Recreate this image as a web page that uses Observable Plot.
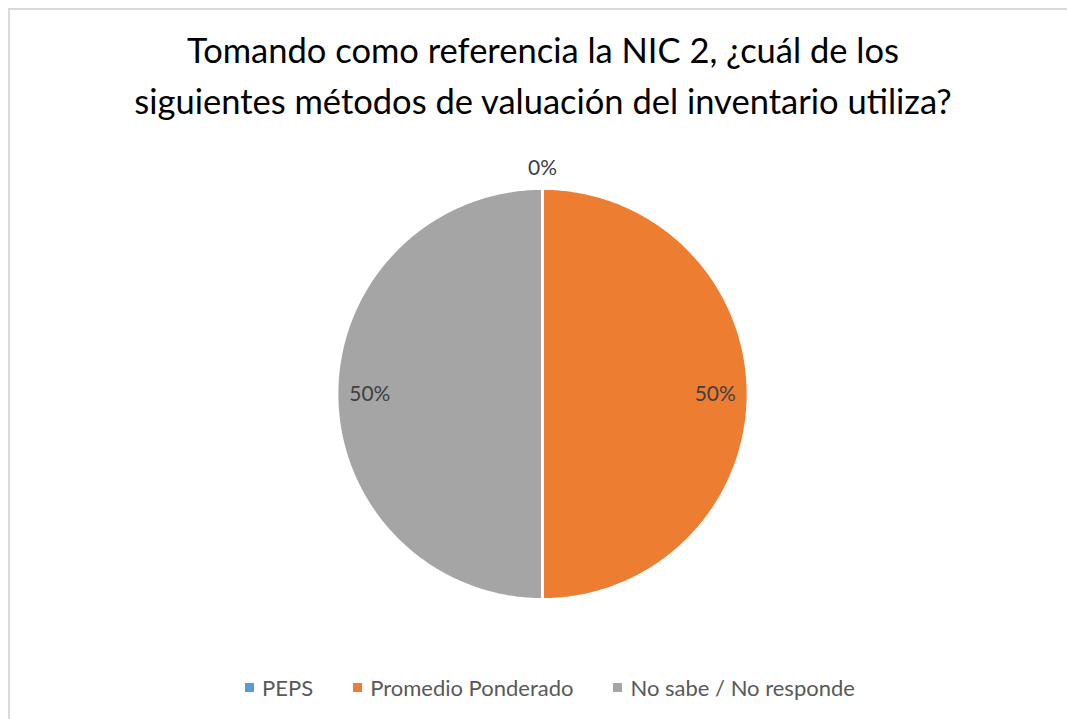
<!DOCTYPE html>
<html>
<head>
<meta charset="utf-8">
<script src="https://cdn.jsdelivr.net/npm/d3@7"></script>
<script src="https://cdn.jsdelivr.net/npm/@observablehq/plot@0.6"></script>
<style>
  html, body { margin: 0; padding: 0; background: #fff; overflow: hidden; }
  #frame { position: absolute; left: 8px; top: 8px; width: 1070px; height: 730px;
           border: 2px solid #d9d9d9; box-sizing: border-box; font-family: Lato, "Open Sans", sans-serif; }
  #title { position: absolute; left: 0; top: 14px; width: 100%; text-align: center;
           font-size: 34.5px; line-height: 51px; color: #000; }
  #chart { position: absolute; left: -2px; top: 110px; }
  #legend { position: absolute; left: 0; top: 664px; width: 100%; display: flex; justify-content: center;
            gap: 40px; font-size: 22px; color: #595959; padding-left: 14px; box-sizing: border-box; }
  .item { display: flex; align-items: center; }
  .sw { width: 9px; height: 9px; margin-right: 8px; }
</style>
</head>
<body>
<div id="frame">
  <div id="title">Tomando como referencia la NIC 2, ¿cuál de los<br>siguientes métodos de valuación del inventario utiliza?</div>
  <div id="chart"></div>
  <div id="legend"></div>
</div>
<script>
const categories = ["PEPS", "Promedio Ponderado", "No sabe / No responde"];
const values = [0, 50, 50];
const labels = ["0%", "50%", "50%"];
const colors = ["#5B9BD5", "#ED7D31", "#A5A5A5"];

const W = 1070, H = 540, R = 206;
const cx = 535, cy = 274; // pixel center inside svg
const pie = d3.pie().sort(null).value(d => d)(values);

// polygon points for each slice (angles clockwise from top)
const pts = [];
pie.forEach((p, i) => {
  if (p.endAngle - p.startAngle <= 0) return;
  const n = Math.max(2, Math.ceil((p.endAngle - p.startAngle) / 0.01));
  pts.push({cat: categories[i], x: 0, y: 0});
  for (let k = 0; k <= n; k++) {
    const a = p.startAngle + (p.endAngle - p.startAngle) * k / n;
    pts.push({cat: categories[i], x: Math.sin(a), y: Math.cos(a)});
  }
  pts.push({cat: categories[i], x: 0, y: 0});
});

const lab = pie.map((p, i) => {
  const a = (p.startAngle + p.endAngle) / 2;
  const rr = values[i] === 0 ? 1.1 : 0.84;
  return {cat: categories[i], label: labels[i], x: rr * Math.sin(a), y: rr * Math.cos(a)};
});

const chart = Plot.plot({
  width: W, height: H,
  margin: 0,
  x: {domain: [-cx / R, (W - cx) / R], axis: null},
  y: {domain: [-(H - cy) / R, cy / R], axis: null},
  color: {domain: categories, range: colors},
  style: {fontFamily: "Lato, 'Open Sans', sans-serif"},
  marks: [
    Plot.line(pts, {x: "x", y: "y", z: "cat", fill: "cat", stroke: "white", strokeWidth: 3, curve: "linear"}),
    Plot.text(lab, {x: "x", y: "y", text: "label", fill: "#404040", fontSize: 21})
  ]
});
document.getElementById("chart").appendChild(chart);

const leg = document.getElementById("legend");
categories.forEach((c, i) => {
  const it = document.createElement("div");
  it.className = "item";
  it.innerHTML = `<span class="sw" style="background:${colors[i]}"></span><span>${c}</span>`;
  leg.appendChild(it);
});
</script>
</body>
</html>
